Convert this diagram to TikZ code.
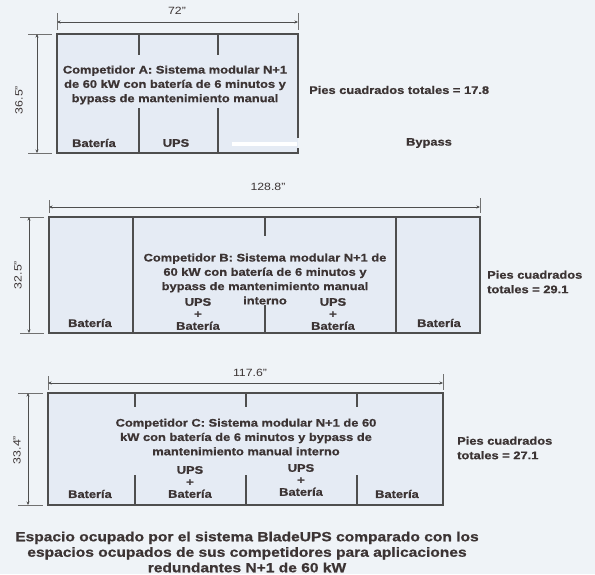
\documentclass[tikz,border=0pt]{standalone}
\usepackage{fontspec}
\setmainfont{Liberation Sans}[FakeStretch=1.17, BoldFeatures={FakeBold=0.8}]
\usetikzlibrary{arrows.meta}
\definecolor{bg}{HTML}{EFF3F7}
\definecolor{boxfill}{HTML}{E5EBF4}
\definecolor{ln}{HTML}{4E4E4E}
\definecolor{txt}{HTML}{3C3434}
\begin{document}
\begin{tikzpicture}[x=1pt,y=-1pt,
  boxline/.style={draw=ln, line width=1.3pt},
  boxfil/.style={fill=boxfill},
  divline/.style={draw=ln, line width=1.1pt},
  dimline/.style={draw=ln, line width=0.8pt, {Stealth[length=3.5pt,width=3pt]}-{Stealth[length=3.5pt,width=3pt]}},
  extline/.style={draw=ln!80, line width=0.6pt},
  lbl/.style={font=\bfseries\fontsize{11}{14.3}\selectfont, text=txt, align=center, inner sep=0pt},
  stack/.style={font=\bfseries\fontsize{11}{12}\selectfont, text=txt, align=center, inner sep=0pt},
  side/.style={font=\bfseries\fontsize{11}{14.5}\selectfont, text=txt, align=left, inner sep=0pt, anchor=west},
  dimlbl/.style={font=\fontsize{10.5}{11}\selectfont, text=txt, inner sep=0pt},
  caption/.style={font=\bfseries\fontsize{13.3}{15.5}\selectfont, text=txt, align=center, inner sep=0pt},
]
\useasboundingbox (0,0) rectangle (595,574);
\fill[bg] (0,0) rectangle (595,574);

% ---------------- Box A ----------------
\fill[boxfil] (57,34) rectangle (298,153);
\fill[white] (232,142) rectangle (297,146);
\draw[boxline] (298,138) -- (298,34) -- (57,34) -- (57,153) -- (298,153) -- (298,148);
\draw[divline] (139,34) -- (139,55) (139,108) -- (139,153);
\draw[divline] (218,34) -- (218,55) (218,108) -- (218,153);
\node[lbl] (aTitle) at (175,85) {Competidor A: Sistema modular N+1\\de 60 kW con batería de 6 minutos y\\bypass de mantenimiento manual};
\node[lbl] (aBat) at (94,143) {Batería};
\node[lbl] (aUps) at (176,143) {UPS};
\node[side] (aPies) at (309,90) {Pies cuadrados totales = 17.8};
\node[lbl] (aByp) at (429,143) {Bypass};
% dimensions A
\coordinate (aL) at (57,22); \coordinate (aR) at (298,22);
\draw[extline] (57,13) -- (57,30) (298,13) -- (298,30);
\draw[dimline] (aL) -- (aR);
\node[dimlbl] (aW) at (177,11) {72”};
\coordinate (aT) at (37,34); \coordinate (aB) at (37,153);
\draw[extline] (28,34) -- (52,34) (28,153) -- (52,153);
\draw[dimline] (aT) -- (aB);
\node[dimlbl, rotate=90] (aH) at (19,100) {36.5”};

% ---------------- Box B ----------------
\fill[boxfil] (49,217) rectangle (480,333);
\draw[boxline] (49,217) rectangle (480,333);
\draw[divline] (133,217) -- (133,333);
\draw[divline] (396,217) -- (396,333);
\draw[divline] (265,217) -- (265,236) (265,305) -- (265,333);
\node[lbl] (bTitle) at (265,279) {Competidor B: Sistema modular N+1 de\\60 kW con batería de 6 minutos y\\bypass de mantenimiento manual\\interno};
\node[stack] (bUps1) at (198,314) {UPS\\+\\Batería};
\node[stack] (bUps2) at (333,314) {UPS\\+\\Batería};
\node[lbl] (bBat1) at (90,323) {Batería};
\node[lbl] (bBat2) at (439,323) {Batería};
\node[side] (bPies) at (487,282) {Pies cuadrados\\totales = 29.1};
% dimensions B
\coordinate (bL) at (49,207); \coordinate (bR) at (480,207);
\draw[extline] (49,200) -- (49,213) (480,198) -- (480,213);
\draw[dimline] (bL) -- (bR);
\node[dimlbl] (bW) at (268,187) {128.8”};
\coordinate (bT) at (29,217); \coordinate (bB) at (29,333);
\draw[extline] (20,217) -- (44,217) (20,333) -- (44,333);
\draw[dimline] (bT) -- (bB);
\node[dimlbl, rotate=90] (bH) at (18,275) {32.5”};

% ---------------- Box C ----------------
\fill[boxfil] (48,393) rectangle (443,505);
\draw[boxline] (48,393) rectangle (443,505);
\foreach \xx in {135,246,357}{
  \draw[divline] (\xx,393) -- (\xx,407) (\xx,475) -- (\xx,505);
}
\node[lbl] (cTitle) at (246,437) {Competidor C: Sistema modular N+1 de 60\\kW con batería de 6 minutos y bypass de\\mantenimiento manual interno};
\node[stack] (cUps1) at (190,482) {UPS\\+\\Batería};
\node[stack] (cUps2) at (301,480) {UPS\\+\\Batería};
\node[lbl] (cBat1) at (90,494) {Batería};
\node[lbl] (cBat2) at (397,494) {Batería};
\node[side] (cPies) at (457,448) {Pies cuadrados\\totales = 27.1};
% dimensions C
\coordinate (cL) at (48,383); \coordinate (cR) at (443,383);
\draw[extline] (48,376) -- (48,390) (443,374) -- (443,390);
\draw[dimline] (cL) -- (cR);
\node[dimlbl] (cW) at (250,373) {117.6”};
\coordinate (cT) at (28,393); \coordinate (cB) at (28,505);
\draw[extline] (18,393) -- (43,393) (18,505) -- (43,505);
\draw[dimline] (cT) -- (cB);
\node[dimlbl, rotate=90] (cH) at (17,450) {33.4”};

% ---------------- Caption ----------------
\node[caption] (cap) at (247,552) {Espacio ocupado por el sistema BladeUPS comparado con los\\espacios ocupados de sus competidores para aplicaciones\\redundantes N+1 de 60 kW};
\end{tikzpicture}
\end{document}
